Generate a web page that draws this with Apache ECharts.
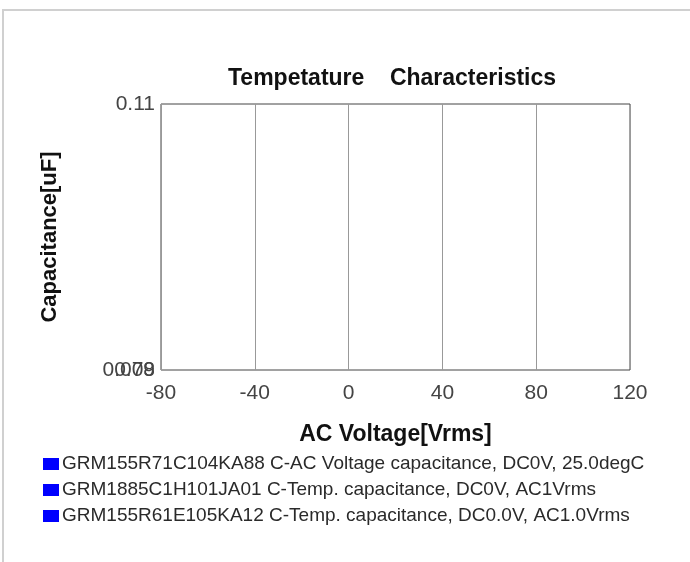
<!DOCTYPE html>
<html>
<head>
<meta charset="utf-8">
<script src="https://cdn.jsdelivr.net/npm/echarts@6/dist/echarts.min.js"></script>
<style>
  html, body { margin: 0; padding: 0; background: #fff; }
  #chart { width: 690px; height: 562px; }
</style>
</head>
<body>
<div id="chart"></div>
<script>
// ---- data ----
const chartTitle = 'Tempetature    Characteristics';
const xAxisTitle = 'AC Voltage[Vrms]';
const yAxisTitle = 'Capacitance[uF]';
const xMin = -80, xMax = 120, xStep = 40;
const yMin = 0.078, yMax = 0.11;
const yTickValues = [0.078, 0.11];
const yOverlapTickValues = [0.078];
const yOverlapTickLabels = ['0.09'];
const seriesNames = [
  'GRM155R71C104KA88 C-AC Voltage capacitance, DC0V, 25.0degC',
  'GRM1885C1H101JA01 C-Temp. capacitance, DC0V, AC1Vrms',
  'GRM155R61E105KA12 C-Temp. capacitance, DC0.0V, AC1.0Vrms'
];
const series1 = [];
const series2 = [];
const series3 = [];
const seriesData = [series1, series2, series3];

// ---- chart ----
const FONT = '"Liberation Sans", Arial, sans-serif';
const chart = echarts.init(document.getElementById('chart'));
chart.setOption({
  animation: false,
  backgroundColor: '#ffffff',
  textStyle: { fontFamily: FONT },
  graphic: [{
    type: 'rect',
    silent: true,
    z: -10,
    shape: { x: 3, y: 10, width: 900, height: 800 },
    style: { fill: 'none', stroke: '#d0d0d0', lineWidth: 2 }
  }],
  title: {
    text: chartTitle,
    left: 223,
    top: 62,
    textStyle: { fontFamily: FONT, fontSize: 23, fontWeight: 'bold', color: '#111' }
  },
  grid: {
    left: 161, right: 60, top: 104, bottom: 192,
    show: true, borderColor: '#444', borderWidth: 1, backgroundColor: 'transparent',
    containLabel: false
  },
  legend: {
    orient: 'vertical',
    left: 38,
    top: 449,
    icon: 'rect',
    itemWidth: 16,
    itemHeight: 12,
    itemGap: 6,
    selectedMode: false,
    textStyle: { fontFamily: FONT, fontSize: 19, lineHeight: 20, color: '#2a2a2a', padding: [0, 0, 0, -2] },
    data: seriesNames
  },
  xAxis: {
    type: 'value',
    min: xMin, max: xMax, interval: xStep,
    name: xAxisTitle,
    nameLocation: 'middle',
    nameGap: 53,
    nameTextStyle: { fontFamily: FONT, fontSize: 23, fontWeight: 'bold', color: '#111' },
    axisLine: { show: false },
    axisTick: { show: false },
    axisLabel: { fontFamily: FONT, fontSize: 21, color: '#444', margin: 13 },
    splitLine: { show: true, lineStyle: { color: '#999', width: 1 } }
  },
  yAxis: [{
    type: 'value',
    min: yMin, max: yMax,
    name: yAxisTitle,
    nameLocation: 'middle',
    nameGap: 100,
    nameRotate: 90,
    nameTextStyle: { fontFamily: FONT, fontSize: 22, fontWeight: 'bold', color: '#111' },
    axisLine: { show: false },
    axisTick: { show: false },
    splitLine: { show: false },
    axisLabel: {
      customValues: yTickValues,
      fontFamily: FONT, fontSize: 21, color: '#444', margin: 6,
      showMinLabel: true, showMaxLabel: true,
      formatter: v => String(+v.toFixed(3))
    }
  }, {
    type: 'value',
    position: 'left',
    min: yMin, max: yMax,
    axisLine: { show: false },
    axisTick: { show: false },
    splitLine: { show: false },
    axisLabel: {
      customValues: yOverlapTickValues,
      fontFamily: FONT, fontSize: 21, color: '#444', margin: 6,
      showMinLabel: true,
      formatter: () => yOverlapTickLabels[0]
    }
  }],
  series: seriesNames.map((n, i) => ({
    name: n,
    type: 'line',
    yAxisIndex: 0,
    color: '#0000ff',
    showSymbol: false,
    data: seriesData[i]
  }))
});
</script>
</body>
</html>
